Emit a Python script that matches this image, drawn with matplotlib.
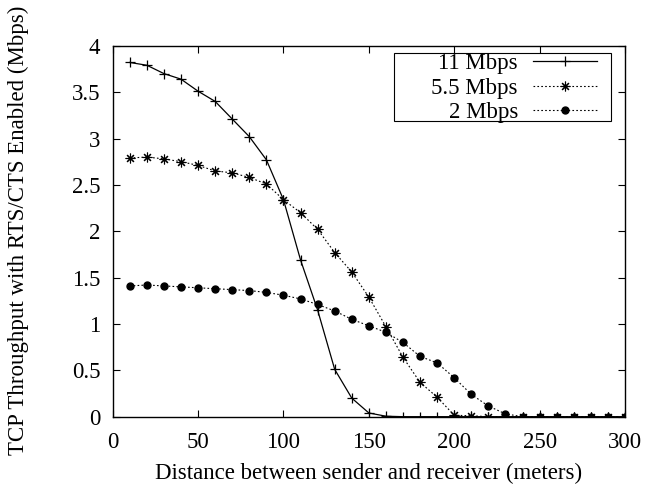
import matplotlib
matplotlib.use("Agg")
import matplotlib.pyplot as plt
from matplotlib.patches import Rectangle

plt.rcParams['font.family'] = ['Liberation Serif', 'DejaVu Serif']

# distance (meters)
distance = [10, 20, 30, 40, 50, 60, 70, 80, 90, 100,
            110, 120, 130, 140, 150, 160, 170, 180, 190, 200,
            210, 220, 230, 240, 250, 260, 270, 280, 290, 300]

# throughput (Mbps)
tput_11 = [3.82, 3.79, 3.70, 3.64, 3.51, 3.40, 3.21, 3.02, 2.77, 2.34,
           1.69, 1.15, 0.51, 0.20, 0.04, 0.005, 0, 0, 0, 0,
           0, 0, 0, 0, 0, 0, 0, 0, 0, 0]
tput_55 = [2.79, 2.80, 2.78, 2.75, 2.71, 2.65, 2.63, 2.58, 2.51, 2.34,
           2.20, 2.02, 1.77, 1.56, 1.29, 0.97, 0.64, 0.37, 0.21, 0.015,
           0.01, 0, 0, 0, 0, 0, 0, 0, 0, 0]
tput_2 = [1.41, 1.42, 1.41, 1.40, 1.39, 1.38, 1.37, 1.36, 1.34, 1.31,
          1.27, 1.21, 1.14, 1.05, 0.98, 0.91, 0.80, 0.65, 0.58, 0.42,
          0.24, 0.115, 0.03, 0, 0, 0, 0, 0, 0, 0]

fs = 16.5
W, H = 647, 487
fig = plt.figure(figsize=(6.47, 4.87), dpi=100)
ax = fig.add_axes([0.1742, 0.1444, 0.966 - 0.1742, 0.906 - 0.1444])

dot = (0, (1.5, 2))
ax.plot(distance, tput_11, color='black', lw=0.9, marker='+', ms=7, mew=0.9,
        label='11 Mbps')
ax.plot(distance, tput_55, color='black', lw=0.8, ls=dot, marker=(8, 2, 0),
        ms=7, mew=0.8, label='5.5 Mbps')
ax.plot(distance, tput_2, color='black', lw=0.8, ls=dot, marker='o',
        ms=5, label='2 Mbps')

ax.set_xlim(0, 300)
ax.set_ylim(0, 4)
ax.set_xticks(range(0, 301, 50))
ax.set_yticks([0, 0.5, 1, 1.5, 2, 2.5, 3, 3.5, 4])
ax.set_yticklabels(['0', '0.5', '1', '1.5', '2', '2.5', '3', '3.5', '4'])
ax.tick_params(direction='in', top=True, right=True, length=5, width=0.8,
               labelsize=fs)
ax.tick_params(axis='x', pad=11)
ax.tick_params(axis='y', pad=9)
for s in ax.spines.values():
    s.set_linewidth(1.0)

ax.set_xlabel('Distance between sender and receiver (meters)', fontsize=fs,
              labelpad=7)
fig.text(18 / W, 1 - 230 / H, 'TCP Throughput with RTS/CTS Enabled (Mbps)',
         fontsize=fs, rotation=90, ha='center', va='center')

# legend box like gnuplot's key
ax.add_patch(Rectangle((394 / W, 1 - 121 / H), (610.7 - 394) / W,
                       (121 - 52.7) / H, transform=fig.transFigure,
                       facecolor='white', edgecolor='black', lw=0.8,
                       zorder=5, clip_on=False))
leg = ax.legend(loc='upper right', bbox_to_anchor=(597 / W, 1 - 53 / H),
                bbox_transform=fig.transFigure, borderaxespad=0,
                markerfirst=False, frameon=False, fontsize=fs,
                handlelength=2.8, labelspacing=0.15, borderpad=0.0,
                handletextpad=0.65)
leg.set_zorder(6)

fig.savefig('out.png', dpi=100)
